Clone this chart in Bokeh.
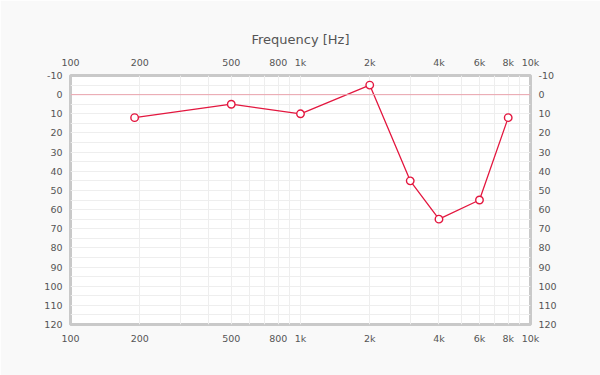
from bokeh.plotting import figure
from bokeh.models import Range1d, LogAxis, LinearAxis, FixedTicker, Span
from bokeh.embed import file_html
from bokeh.resources import INLINE

freqs = [190, 500, 1000, 2000, 3000, 4000, 6000, 8000]
levels = [12, 5, 10, -5, 45, 65, 55, 12]

x_ticks = [100, 200, 500, 800, 1000, 2000, 4000, 6000, 8000, 10000]
x_labels = ["100", "200", "500", "800", "1k", "2k", "4k", "6k", "8k", "10k"]
y_ticks = list(range(-10, 121, 10))
y_labels = [str(v) for v in y_ticks]

RED = "#e3173f"
TXT = "#555555"
FONT = "DejaVu Sans"

p = figure(width=600, height=375, x_axis_type="log",
           x_range=Range1d(100, 10000), y_range=Range1d(120, -10),
           output_backend="svg", toolbar_location=None,
           x_axis_location=None, y_axis_location=None,
           min_border_left=70, min_border_right=70,
           min_border_top=75, min_border_bottom=51,
           background_fill_color="white", border_fill_color="#f9f9f9",
           title="Frequency [Hz]")

p.title.align = "center"
p.title.text_font = FONT
p.title.text_font_size = "13px"
p.title.text_font_style = "normal"
p.title.text_color = TXT
p.title.standoff = 14

p.outline_line_color = "#c9c9c9"
p.outline_line_width = 3

grid_x = [b * m for b in (100, 1000) for m in range(1, 10)] + [10000]
p.xgrid.ticker = FixedTicker(ticks=grid_x)
p.ygrid.ticker = FixedTicker(ticks=list(range(-10, 121, 5)))
p.xgrid.grid_line_color = "#eeeeee"
p.ygrid.grid_line_color = "#eeeeee"
p.xgrid.grid_line_width = 1
p.ygrid.grid_line_width = 1

x_over = {t: l for t, l in zip(x_ticks, x_labels)}
y_over = {t: l for t, l in zip(y_ticks, y_labels)}

def style(ax):
    ax.axis_line_color = None
    ax.major_tick_line_color = None
    ax.minor_tick_line_color = None
    ax.major_label_text_font = FONT
    ax.major_label_text_font_size = "9.5px"
    ax.major_label_text_color = TXT
    ax.major_label_standoff = 2

for loc in ("above", "below"):
    ax = LogAxis(ticker=FixedTicker(ticks=x_ticks), major_label_overrides=x_over)
    style(ax)
    p.add_layout(ax, loc)

for loc in ("left", "right"):
    ax = LinearAxis(ticker=FixedTicker(ticks=y_ticks), major_label_overrides=y_over)
    style(ax)
    p.add_layout(ax, loc)

p.add_layout(Span(location=0, dimension="width", line_color="#eba3ad", line_width=1))

p.line(freqs, levels, line_color=RED, line_width=1.3)
p.scatter(freqs, levels, size=7.5, marker="circle", fill_color="white",
          line_color=RED, line_width=1.4)

html = file_html(p, INLINE)
html = html.replace("<body>", "<body style=\"background:#f9f9f9\">", 1)
open("out.html", "w").write(html)
